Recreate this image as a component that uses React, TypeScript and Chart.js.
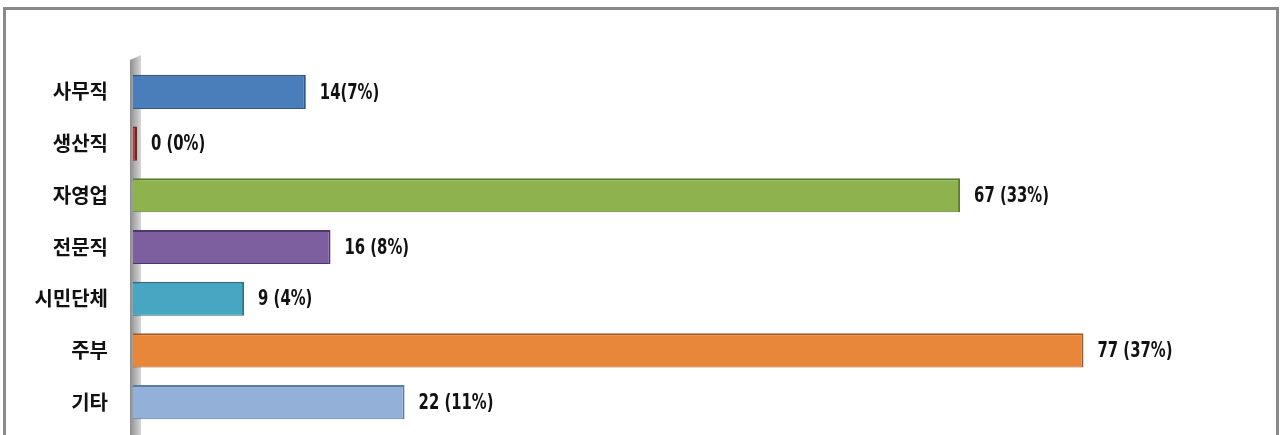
import React, { useEffect, useRef } from "react";
import { Chart, registerables } from "chart.js";

Chart.register(...registerables);

const categories = ["사무직", "생산직", "자영업", "전문직", "시민단체", "주부", "기타"];
const counts = [14, 0, 67, 16, 9, 77, 22];
const valueLabels = ["14(7%)", "0 (0%)", "67 (33%)", "16 (8%)", "9 (4%)", "77 (37%)", "22 (11%)"];
const fillColors = ["#4A7EBB", "#B8403C", "#8DB24E", "#7D5FA0", "#47A7C2", "#E8873A", "#93B1D8"];
const edgeColors = ["#2F5A8C", "#7A2220", "#5E7A2E", "#4E3870", "#2A7288", "#A65A20", "#5C7CA6"];

const wallPlugin = {
  id: "wall",
  beforeDatasetsDraw(chart: any) {
    const { ctx, chartArea } = chart;
    const x0 = chartArea.left - 3;
    const x1 = chartArea.left + 8;
    ctx.save();
    const g = ctx.createLinearGradient(x0, 0, x1, 0);
    g.addColorStop(0, "#8c8c8c");
    g.addColorStop(0.5, "#b4b4b4");
    g.addColorStop(1, "#d6d6d6");
    ctx.fillStyle = g;
    ctx.beginPath();
    ctx.moveTo(x0, chartArea.top - 6);
    ctx.lineTo(x1, chartArea.top - 11);
    ctx.lineTo(x1, chart.height);
    ctx.lineTo(x0, chart.height);
    ctx.closePath();
    ctx.fill();
    ctx.restore();
  },
};

const labelPlugin = {
  id: "valueLabels",
  afterDatasetsDraw(chart: any) {
    const { ctx } = chart;
    const meta = chart.getDatasetMeta(0);
    ctx.save();
    ctx.font = "bold 22px 'DejaVu Sans Condensed', 'DejaVu Sans', sans-serif";
    ctx.fillStyle = "#111";
    ctx.textBaseline = "middle";
    ctx.textAlign = "left";
    const sx = 0.75;
    meta.data.forEach((bar: any, i: number) => {
      ctx.save();
      ctx.translate(bar.x + 14, bar.y + 1);
      ctx.scale(sx, 1);
      ctx.fillText(valueLabels[i], 0, 0);
      ctx.restore();
    });
    ctx.restore();
  },
};

export default function App() {
  const ref = useRef<HTMLCanvasElement>(null);
  useEffect(() => {
    if (!ref.current) return;
    const chart = new Chart(ref.current, {
      type: "bar",
      data: {
        labels: categories,
        datasets: [
          {
            data: counts,
            backgroundColor: fillColors,
            borderColor: edgeColors,
            borderWidth: { top: 2, bottom: 1, right: 2, left: 0 } as any,
            borderSkipped: false,
            barPercentage: 0.66,
            categoryPercentage: 1,
            minBarLength: 4,
          },
        ],
      },
      plugins: [wallPlugin, labelPlugin],
      options: {
        indexAxis: "y",
        animation: false,
        responsive: false,
        maintainAspectRatio: false,
        layout: { padding: { top: 66, bottom: 7, left: 0, right: 41 } },
        plugins: { legend: { display: false }, tooltip: { enabled: false } },
        scales: {
          x: { display: false, min: 0, max: 90 },
          y: {
            afterFit: (s: any) => {
              s.width = 133;
            },
            grid: { display: false, drawTicks: false },
            border: { display: false },
            ticks: {
              padding: 25,
              color: "#111",
              font: { family: "'Noto Sans CJK KR', sans-serif", size: 20, weight: "bold" },
            },
          },
        },
      },
    });
    return () => chart.destroy();
  }, []);
  return (
    <div style={{ position: "absolute", left: 0, top: 0, width: 1285, height: 435, background: "#fff", overflow: "hidden" }}>
      <div
        style={{
          position: "absolute",
          left: 3,
          top: 7,
          width: 1276,
          height: 450,
          border: "3px solid #8a8a8a",
          boxSizing: "border-box",
        }}
      />
      <canvas ref={ref} width={1285} height={465} style={{ position: "absolute", left: 0, top: 0 }} />
    </div>
  );
}
